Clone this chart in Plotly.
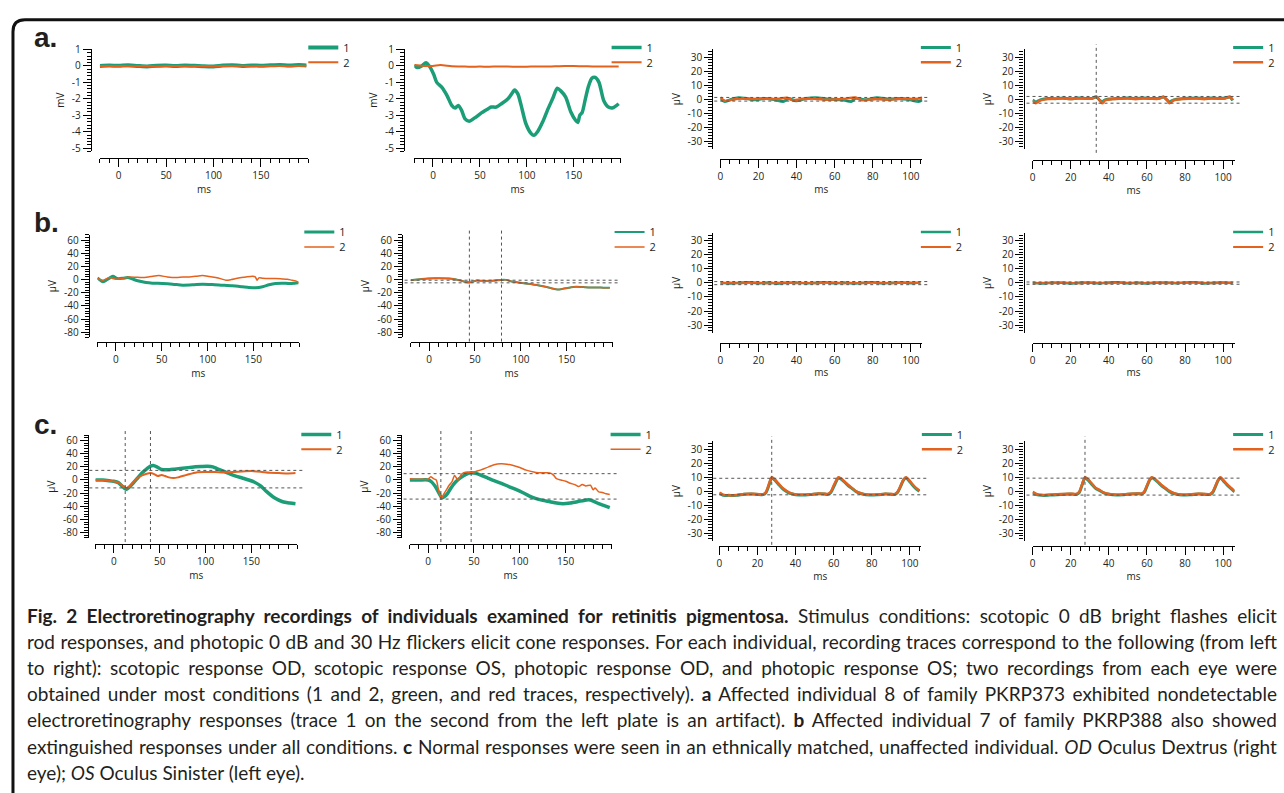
import plotly.graph_objects as go

W, H = 1284, 793
GREEN = "#1b9e77"
ORANGE = "#e4621d"

# ---------------- data ----------------
# tick values
long_ms_ticks = [0, 50, 100, 150]
short_ms_ticks = [0, 20, 40, 60, 80, 100]
mv_ticks = [-5, -4, -3, -2, -1, 0, 1]
uv80_ticks = [-80, -60, -40, -20, 0, 20, 40, 60]
uv30_ticks = [-30, -20, -10, 0, 10, 20, 30]

# Row a (PKRP373, individual 8)
a1_x = [-20, -10, 0, 10, 20, 30, 40, 50, 60, 70, 80, 90, 100, 110, 120, 130, 140, 150, 160, 170, 180, 190, 198]
a1_g = [0.0, 0.02, 0.01, 0.04, 0.0, -0.03, 0.01, 0.02, 0.0, 0.03, 0.01, -0.02, -0.03, 0.02, 0.04, 0.0, 0.03, 0.01, 0.04, 0.06, 0.02, 0.05, 0.03]
a1_o = [0.0, -0.01, 0.0, -0.02, -0.01, 0.0, -0.03, -0.01, 0.0, -0.02, -0.01, 0.0, -0.02, 0.0, -0.01, 0.01, -0.02, 0.0, -0.01, 0.0, -0.02, 0.0, 0.01]

a2_gx = [-20, -17, -12, -7.5, -4, 0.7, 4, 9.5, 15, 20, 23.5, 27, 30.5, 34, 38.5, 44.5, 52, 59, 62, 67.5,
         73, 80, 85, 87, 90.5, 94, 99, 104.5, 107.5, 111.5, 117, 122, 127.5, 132.5, 136, 141.5, 147, 152, 154.5, 156.5,
         159, 162.5, 166, 169.5, 173, 177, 182, 187, 192, 198]
a2_g = [0.04, -0.1, 0.0, 0.2, 0.0, -0.5, -1.0, -1.3, -1.8, -2.4, -2.56, -2.4, -2.7, -3.2, -3.36, -3.16, -2.84, -2.6, -2.5, -2.5,
        -2.3, -2.0, -1.6, -1.46, -1.7, -2.4, -3.5, -4.1, -4.22, -4.0, -3.4, -2.7, -2.0, -1.36, -1.5, -1.9, -2.8, -3.3, -3.44, -3.0,
        -2.84, -2.0, -1.2, -0.74, -0.7, -1.0, -2.1, -2.5, -2.54, -2.3]
a2_ox = [-20, -10, 0, 8, 20, 30, 40, 50, 60, 70, 80, 90, 100, 110, 120, 130, 140, 150, 160, 170, 180, 190, 198]
a2_o = [0.05, 0.0, 0.0, 0.05, -0.02, -0.03, -0.05, -0.04, -0.05, -0.03, -0.04, -0.05, -0.05, -0.03, -0.04, -0.02, -0.01, 0.0, -0.02, -0.03, -0.04, -0.03, -0.04]

a3_gx = [0, 2.3, 5, 9.4, 14.7, 18, 23.5, 29, 33, 36, 39.5, 45, 50, 57, 64, 68.7, 71, 76.6, 82, 89, 94, 99.6, 104, 106]
a3_g = [0.5, -1.7, -0.5, 1, 0.2, -0.5, 0.5, -0.5, -1.7, 0.5, -1.2, 0.5, 1, 0, -0.5, -1.7, 0.5, -0.5, 1, 0, 0.5, -0.5, -1.7, -0.5]
a3_ox = [0, 2.3, 5.8, 11, 16.5, 22, 29, 35, 37.7, 43, 48, 55, 64, 71, 74, 82, 89, 96, 102, 106]
a3_o = [1.2, -1.2, -0.5, 0.5, 0, 0.5, 0, 1, -0.7, 0, 0.5, -0.5, 0, 1.2, -0.7, 0, -0.5, 0.5, 0, 1]
a3_h = [1.2, -1.4]

a4_x = [0, 1.7, 4, 8, 12, 16, 20, 24, 28, 31, 33.4, 35, 36.5, 38, 42, 46, 50, 54, 58, 62,
        66, 68.7, 70.5, 71.8, 74, 78, 82, 86, 90, 94, 98, 101, 103.5, 105]
a4_g = [-0.5, -2.0, -0.5, 0.5, 0.3, 0.8, 0.2, 0.8, 0.5, 0.5, 1.5, -0.5, -2.0, -0.5, 0.3, 0.5, 0.8, 0.3, 0.8, 0.5,
        0.5, 1.5, -0.5, -2.0, -0.5, 0.3, 0.6, 0.8, 0.3, 0.8, 0.5, 0.8, 1.5, -1.0]
a4_o = [-1.0, -3.0, -1.0, 0.0, 0.3, 0.5, 0.0, 0.5, 0.3, 0.3, 1.9, -0.5, -3.0, -0.8, 0.0, 0.3, 0.5, 0.0, 0.5, 0.3,
        0.2, 1.7, -0.5, -3.0, -0.8, 0.0, 0.3, 0.5, 0.0, 0.5, 0.3, 0.5, 1.7, -0.5]
a4_h = [1.9, -2.9]
a4_v = [33.4]

# Row b (PKRP388, individual 7)
b1_gx = [-20, -14, -10.5, -6, -3, 2, 8, 13, 18, 22, 28, 33, 40, 51, 62, 73, 84, 94.5, 105, 116,
         127, 138, 145, 152.5, 160, 167, 174, 181, 189, 195, 199]
b1_g = [2.5, -3.5, -1, 3, 5, 1.5, 2, 3, 1, -1, -3, -4.5, -5.5, -6, -7, -8.5, -8, -7, -7.5, -8.5,
        -9.5, -11, -12, -12.5, -11, -8, -6, -5.5, -6, -5.5, -5]
b1_ox = [-20, -14, -7, 0, 8, 15, 22, 29, 38, 47, 56, 66, 73, 80, 88, 94.5, 102, 109, 115, 120,
         126, 131, 137, 142, 149, 152, 154, 156, 160, 167, 174, 181, 187, 192, 196, 199]
b1_o = [1.5, -1, 3, 0.5, 2, 4, 3.5, 3, 4.5, 6, 4, 3, 4, 4, 5, 6, 4.5, 3, 1, -1,
        0, 1.5, 3, 4, 5, 4, -1, 2.5, 2, 1.5, 1.5, 1, 0.5, -1, -2, -4.5]

b2_x = [-20, -8, 7, 22, 33, 40, 44, 48, 52, 58, 66, 72, 78, 84, 90, 97, 105, 112, 120, 127,
        134, 140, 146, 152, 160, 168, 176, 184, 190, 197]
b2_g = [-1, 1, 2, 1.5, -1, -3.5, -4.5, -3, -1.5, -2, -2, -1.5, -0.5, -0.5, -3, -4.5, -6, -7, -9, -11,
        -13.5, -15, -14, -12.5, -11, -11.5, -12, -12, -12.5, -12.5]
b2_o = [-1, 1, 2, 1.5, -1, -3.5, -4.5, -3, -1.5, -2, -2, -1.5, -0.5, -0.5, -3, -4.5, -6, -7, -9, -11,
        -13.5, -15, -14, -12.5, -11, -11.5, -12, -12, -12.5, -12.5]
b2_h = [-1, -5]
b2_v = [44, 79]

b34_x = [0, 5, 10, 15, 20, 25, 30, 35, 40, 45, 50, 55, 60, 65, 70, 75, 80, 85, 90, 95, 100, 105]
b3_g = [0.3, -0.4, 0.2, 0.5, -0.2, 0.3, -0.5, 0.2, 0.4, -0.3, 0.2, 0.5, -0.2, 0.3, -0.4, 0.2, 0.5, -0.3, 0.2, 0.4, -0.2, 0.3]
b3_o = [-0.2, 0.3, -0.3, 0.2, 0.3, -0.4, 0.2, 0.3, -0.2, 0.2, -0.3, 0.2, 0.3, -0.3, 0.2, -0.2, 0.3, 0.2, -0.3, 0.2, 0.3, -0.2]
b3_h = [1.0, -1.2]
b4_g = [0.2, -0.3, 0.4, 0.1, -0.4, 0.3, 0.2, -0.3, 0.4, 0.5, -0.2, 0.3, -0.4, 0.2, 0.4, -0.2, 0.3, 0.5, -0.3, 0.2, 0.3, -0.1]
b4_o = [-0.3, 0.2, -0.2, 0.3, 0.1, -0.3, 0.3, 0.1, -0.2, 0.3, 0.2, -0.3, 0.1, 0.3, -0.2, 0.2, -0.1, 0.3, 0.1, -0.2, 0.2, 0.1]
b4_h = [0.7, -0.9]

# Row c (unaffected individual)
c1_gx = [-20, -12, -5, 0, 5, 9, 12, 14, 17, 21, 26, 31, 36, 40, 43, 47, 52, 58, 66, 75,
         85, 95, 102, 108, 113, 120, 127, 133, 140, 147, 153, 160, 166, 175, 184, 192, 198]
c1_g = [0, 0, -1, -2, -4, -9, -13, -14, -11, -5, 3, 11, 17, 21, 22, 20, 16, 15.5, 16.5, 18,
        19.5, 20.5, 21, 20, 17, 13, 9, 6, 3, 0, -3, -9, -17, -27, -33, -35, -36]
c1_ox = [-20, -12, -5, 0, 5, 9, 12, 14, 17, 21, 26, 31, 36, 40, 44, 48, 52, 56, 60, 65,
         70, 80, 90, 100, 110, 120, 130, 140, 150, 160, 170, 180, 190, 198]
c1_o = [0, 0, -1, -2, -4, -8, -11, -12, -10, -4, 3, 7, 9.5, 10.5, 9, 6, 7.5, 6, 4, 3,
        4, 8, 11.5, 12, 12, 11.5, 12, 13, 13.5, 12.5, 11, 10.5, 10, 10.5]
c1_h = [14.6, -12]
c1_v = [12.5, 40]

c2_gx = [-20, -10, 0, 4, 8, 12, 15, 18, 21, 25, 30, 36, 42, 47, 52, 58, 65, 72, 80, 88,
         95, 103, 110, 117, 125, 133, 140, 147, 155, 163, 170, 175, 180, 186, 192, 198]
c2_g = [0, 0, 0, -3, -10, -20, -27, -25, -21, -12, -3, 4, 9, 11, 10, 7, 3, -1, -5, -10,
        -14, -19, -24, -28, -31, -33, -35, -36, -35, -33, -31, -30, -32, -36, -39, -42]
c2_ox = [-20, -12, -5, 0, 3, 6, 9, 11, 13, 15, 17, 20, 23, 26, 29, 31, 33, 36, 39, 43,
         47, 52, 57, 61, 66, 72, 79, 86, 93, 100, 107, 115, 120, 125, 130, 134, 137, 140, 145, 150,
         155, 160, 164, 168, 172, 177, 180, 182, 186, 190, 194, 198]
c2_o = [2, 1, 1, 1, 5, 2, 0, -12, -23, -28, -22, -15, -8, -3, 7, 3, 0, 8, 11, 12,
        11, 13, 15, 17, 20, 23, 24.5, 24, 22, 19, 15, 12, 11, 11, 11, 10, 7, 2, 0, -2,
        -5, -7, -10, -7, -9, -8, -15, -12, -18, -19, -21, -22]
c2_h = [9.6, -29]
c2_v = [14, 47]

c3_x = [0, 2, 5, 9, 13, 17, 20, 23, 24.5, 26, 27.5, 29, 31, 33, 35, 37, 40, 44, 48, 52,
        55, 57, 58.5, 60, 61.5, 62.5, 64, 66, 68, 70, 72, 75, 79, 83, 87, 90, 92, 93.5, 95, 96.5,
        98, 99.5, 101, 103, 105]
c3_g = [-1.5, -3, -3, -3, -2.2, -2, -2.3, -2.5, -1, 4, 9.5, 8, 5, 2, 0, -1.5, -2.5, -2.8, -2.4, -1.8,
        -2, -2.3, -1, 3, 7.5, 9.5, 8.5, 6, 3.5, 1.5, -0.5, -2, -2.8, -2.6, -2, -2.2, -2.4, -1, 3, 7.5,
        9.5, 7.5, 5, 2, 0]
c3_o = [-1, -2.5, -3, -2.8, -2, -1.8, -2, -2.2, -0.5, 5, 10, 8.5, 5.5, 2.5, 0.5, -1.2, -2.3, -2.6, -2.2, -1.6,
        -1.8, -2, -0.5, 4, 8, 10, 9, 6.5, 4, 1.8, -0.3, -1.8, -2.6, -2.4, -1.8, -2, -2.1, -0.5, 3.5, 8,
        10, 8, 5.5, 2.5, 0.5]
c3_h = [9.2, -2.6]
c3_v = [27.5]

c4_x = [0, 2, 5, 9, 13, 17, 20, 23, 24.5, 26, 27.5, 29, 31, 33, 35, 37, 40, 44, 48, 52,
        55, 57, 58.5, 60, 61.5, 62.5, 64, 66, 68, 70, 72, 75, 79, 83, 87, 90, 93, 94.5, 96, 97.5,
        98.5, 100, 102, 104, 106]
c4_g = [-1, -2.5, -3, -2.8, -2.5, -2.2, -2, -2.3, -1, 4.5, 9.5, 8, 5, 2, 0.5, -1, -2.2, -2.8, -2.5, -2,
        -1.8, -2, -1, 3.5, 8, 9.5, 8.5, 6, 3.5, 1.5, -0.5, -2, -2.8, -2.5, -2, -2.2, -2.4, -1, 3.5, 8,
        9.5, 7.5, 4.5, 2, -0.5]
c4_o = [-0.5, -2, -2.8, -2.5, -2.2, -2, -1.8, -2, -0.5, 5, 10, 8.5, 5.5, 2.5, 1, -0.8, -2, -2.6, -2.3, -1.8,
        -1.6, -1.8, -0.5, 4, 8.5, 10, 9, 6.5, 4, 2, 0, -1.8, -2.6, -2.3, -1.8, -2, -2.1, -0.5, 4, 8.5,
        10, 8, 5, 2.5, 0]
c4_h = [9.3, -2.8]
c4_v = [27.5]

row_labels = ["a.", "b.", "c."]
legend_names = ["1", "2"]

caption_lines = [
    "<b>Fig. 2 Electroretinography recordings of individuals examined for retinitis pigmentosa.</b> Stimulus conditions: scotopic 0 dB bright flashes elicit",
    "rod responses, and photopic 0 dB and 30 Hz flickers elicit cone responses. For each individual, recording traces correspond to the following (from left",
    "to right): scotopic response OD, scotopic response OS, photopic response OD, and photopic response OS; two recordings from each eye were",
    "obtained under most conditions (1 and 2, green, and red traces, respectively). <b>a</b> Affected individual 8 of family PKRP373 exhibited nondetectable",
    "electroretinography responses (trace 1 on the second from the left plate is an artifact). <b>b</b> Affected individual 7 of family PKRP388 also showed",
    "extinguished responses under all conditions. <b>c</b> Normal responses were seen in an ethnically matched, unaffected individual. <i>OD</i> Oculus Dextrus (right",
    "eye); <i>OS</i> Oculus Sinister (left eye).",
]

# ---------------- layout helpers (pixel geometry) ----------------
def px(v):
    return v / W

def py(v):
    return 1 - v / H

XK = {
    "long": dict(range=[-20, 200], tickvals=long_ms_ticks, minor=10),
    "short": dict(range=[0, 106], tickvals=short_ms_ticks, minor=5),
}
YK = {
    "mv": dict(range=[-5.2, 1.05], tickvals=mv_ticks, minor=0.2, title="mV"),
    "uv80": dict(range=[-88, 68], tickvals=uv80_ticks, minor=4, title="µV"),
    "uv30": dict(range=[-35.5, 35.5], tickvals=uv30_ticks, minor=2, title="µV"),
}

panels = [
    dict(gx=a1_x, g=a1_g, ox=a1_x, o=a1_o, h=[], v=[], yx=88, xd=(97, 306), yd=(42.2, 146.3), xy=153, kx="long", ky="mv", gw=4, ow=2, leg=(341, 41, 56)),
    dict(gx=a2_gx, g=a2_g, ox=a2_ox, o=a2_o, h=[], v=[], yx=402, xd=(412.2, 619), yd=(42.2, 146.3), xy=153, kx="long", ky="mv", gw=3.5, ow=2, leg=(645, 41, 56)),
    dict(gx=a3_gx, g=a3_g, ox=a3_ox, o=a3_o, h=a3_h, v=[], yx=711, xd=(719, 921.5), yd=(42.9, 143.7), xy=154, kx="short", ky="uv30", gw=3, ow=2.5, leg=(955, 41, 56)),
    dict(gx=a4_x, g=a4_g, ox=a4_x, o=a4_o, h=a4_h, v=a4_v, yx=1023, xd=(1032, 1234.5), yd=(42.9, 143.7), xy=155, kx="short", ky="uv30", gw=3, ow=2.5, leg=(1268, 41, 56)),
    dict(gx=b1_gx, g=b1_g, ox=b1_ox, o=b1_o, h=[], v=[], yx=86, xd=(94.6, 297), yd=(230.7, 334.7), xy=339, kx="long", ky="uv80", gw=3, ow=1.5, leg=(337, 228, 243)),
    dict(gx=b2_x, g=b2_g, ox=b2_x, o=b2_o, h=b2_h, v=b2_v, yx=400, xd=(408.6, 611), yd=(230.7, 334.7), xy=339, kx="long", ky="uv80", gw=2, ow=1.5, leg=(648, 228, 243)),
    dict(gx=b34_x, g=b3_g, ox=b34_x, o=b3_o, h=b3_h, v=[], yx=711, xd=(719, 921.5), yd=(229.1, 329.9), xy=340, kx="short", ky="uv30", gw=2.5, ow=2, leg=(955, 228, 243)),
    dict(gx=b34_x, g=b4_g, ox=b34_x, o=b4_o, h=b4_h, v=[], yx=1023, xd=(1032, 1234.5), yd=(229.1, 329.9), xy=340, kx="short", ky="uv30", gw=2.5, ow=2, leg=(1268, 228, 243)),
    dict(gx=c1_gx, g=c1_g, ox=c1_ox, o=c1_o, h=c1_h, v=c1_v, yx=85, xd=(92.6, 295), yd=(433.7, 537.7), xy=544, kx="long", ky="uv80", gw=3.5, ow=2, leg=(334, 433, 448)),
    dict(gx=c2_gx, g=c2_g, ox=c2_ox, o=c2_o, h=c2_h, v=c2_v, yx=399, xd=(407.6, 610), yd=(433.7, 537.7), xy=544, kx="long", ky="uv80", gw=3.5, ow=1.5, leg=(644, 433, 448)),
    dict(gx=c3_x, g=c3_g, ox=c3_x, o=c3_o, h=c3_h, v=c3_v, yx=711, xd=(718, 920.5), yd=(440, 540.7), xy=546, kx="short", ky="uv30", gw=3, ow=2.5, leg=(956, 433, 448)),
    dict(gx=c4_x, g=c4_g, ox=c4_x, o=c4_o, h=c4_h, v=c4_v, yx=1023, xd=(1032, 1234.5), yd=(440, 540.7), xy=546, kx="short", ky="uv30", gw=3, ow=2.5, leg=(1268, 433, 448)),
]

TICKFONT = dict(family="Open Sans", size=10, color="#231f20")
fig = go.Figure()
layout = dict(
    width=W, height=H, margin=dict(l=0, r=0, t=0, b=0),
    paper_bgcolor="white", plot_bgcolor="rgba(0,0,0,0)",
    showlegend=True, shapes=[], annotations=[],
)

def legname(n):
    return "legend" if n == 1 else f"legend{n}"

for i, p in enumerate(panels):
    k = i + 1
    xa = "x" if k == 1 else f"x{k}"
    ya = "y" if k == 1 else f"y{k}"
    lg, lo = legname(2 * k - 1), legname(2 * k)
    fig.add_trace(go.Scatter(x=p["gx"], y=p["g"], mode="lines", name=legend_names[0],
                             line=dict(color=GREEN, width=p["gw"], shape="spline", smoothing=0.7),
                             xaxis=xa, yaxis=ya, legend=lg, hoverinfo="skip"))
    fig.add_trace(go.Scatter(x=p["ox"], y=p["o"], mode="lines", name=legend_names[1],
                             line=dict(color=ORANGE, width=p["ow"], shape="spline", smoothing=0.7),
                             xaxis=xa, yaxis=ya, legend=lo, hoverinfo="skip"))
    xk, yk = XK[p["kx"]], YK[p["ky"]]
    layout[f"xaxis{'' if k == 1 else k}"] = dict(
        domain=[px(p["xd"][0]), px(p["xd"][1])], range=xk["range"], anchor="free", position=py(p["xy"]),
        showline=True, linecolor="black", linewidth=1.3, ticks="outside", ticklen=8, tickwidth=1, tickcolor="black",
        tickvals=xk["tickvals"], ticktext=[str(v) for v in xk["tickvals"]],
        minor=dict(dtick=xk["minor"], tick0=0, ticks="outside", ticklen=4, tickwidth=1, tickcolor="black"),
        showgrid=False, zeroline=False, tickfont=TICKFONT, fixedrange=True,
        title=dict(text="ms", font=TICKFONT, standoff=3),
    )
    layout[f"yaxis{'' if k == 1 else k}"] = dict(
        domain=[py(p["yd"][1]), py(p["yd"][0])], range=yk["range"], anchor="free", position=px(p["yx"]),
        showline=True, linecolor="black", linewidth=1.3, ticks="outside", ticklen=8, tickwidth=1, tickcolor="black",
        tickvals=yk["tickvals"], ticktext=[str(v) for v in yk["tickvals"]],
        minor=dict(dtick=yk["minor"], tick0=0, ticks="outside", ticklen=4, tickwidth=1, tickcolor="black"),
        showgrid=False, zeroline=False, tickfont=TICKFONT, fixedrange=True,
        title=dict(text=yk["title"], font=TICKFONT, standoff=4),
    )
    for hv in p["h"]:
        layout["shapes"].append(dict(type="line", xref=f"{xa} domain", yref=ya, x0=-0.03, x1=1.03, y0=hv, y1=hv,
                                     line=dict(color="#555555", width=1, dash="dot")))
    for vv in p["v"]:
        layout["shapes"].append(dict(type="line", xref=xa, yref=f"{ya} domain", x0=vv, x1=vv, y0=-0.04, y1=1.05,
                                     line=dict(color="#555555", width=1, dash="dot")))
    tx, ly1, ly2 = p["leg"]
    for nm, yy in ((lg, ly1), (lo, ly2)):
        layout[nm] = dict(x=px(tx - 40), y=py(yy), xanchor="left", yanchor="middle",
                          bgcolor="rgba(0,0,0,0)", borderwidth=0, itemwidth=30,
                          font=dict(family="Open Sans", size=11, color="#231f20"))

# row labels
for lab, base in zip(row_labels, (45, 232, 437)):
    layout["annotations"].append(dict(text=f"<b>{lab}</b>", x=px(29), y=py(base - 14), xref="paper", yref="paper",
                                      xanchor="left", yanchor="middle", showarrow=False,
                                      font=dict(family="Liberation Sans", size=28, color="#231f20")))

# caption
N_LABELS = len(row_labels)
for j, line in enumerate(caption_lines):
    layout["annotations"].append(dict(text=line, x=px(22), y=py(616 + 26.5 * j), xref="paper", yref="paper",
                                      xanchor="left", yanchor="middle", showarrow=False, align="left",
                                      font=dict(family="Lato", size=19, color="#231f20")))

# rounded outer frame (continues past the right and bottom edges of the view)
L, R, T, B, r = 10, 1296, 13, 805, 12
path = (f"M {px(L)},{py(B)} L {px(L)},{py(T + r)} Q {px(L)},{py(T)} {px(L + r)},{py(T)} "
        f"L {px(R - r)},{py(T)} Q {px(R)},{py(T)} {px(R)},{py(T + r)} L {px(R)},{py(B)}")
layout["shapes"].append(dict(type="path", xref="paper", yref="paper", path=path,
                             line=dict(color="#111111", width=3)))

fig.update_layout(**layout)

# page margin reset + justify the caption paragraph lines (all but the last) to the right edge
justify_js = """
document.body.style.margin='0px';
document.body.style.overflow='hidden';
var gd = document.getElementById('{plot_id}');
var first = %d, last = %d, rightEdge = 1277;
gd.querySelectorAll('g.annotation').forEach(function(g){
  var idx = +g.getAttribute('data-index');
  if (idx >= first && idx < last) {
    var t = g.querySelector('text.annotation-text');
    if (!t) return;
    var n = (t.textContent.match(/ /g) || []).length;
    var rc = t.getBoundingClientRect();
    var extra = rightEdge - rc.right;
    if (n > 0 && extra > 0) { t.style.wordSpacing = (extra / n) + 'px'; }
  }
});
""" % (N_LABELS, N_LABELS + len(caption_lines) - 1)

fig.write_html("out.html", config={"displayModeBar": False}, post_script=justify_js)
